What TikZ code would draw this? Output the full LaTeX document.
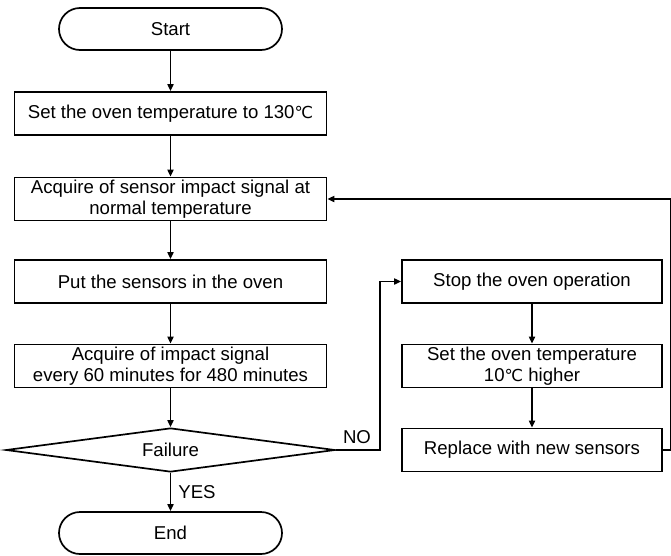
\documentclass[tikz,border=0pt]{standalone}
\usepackage{fontspec}
\setmainfont{Liberation Sans}
\newfontfamily\symfont{DejaVu Sans}
\usetikzlibrary{arrows.meta,shapes.geometric}
\newcommand{\degC}{{\symfont\fontsize{16.5}{20}\selectfont ℃}}
\begin{document}
\begin{tikzpicture}[x=1pt,y=-1pt,
  every node/.style={font=\fontsize{18.6}{21}\selectfont, align=center, inner sep=0pt},
  box/.style={draw, line width=1.7pt, rectangle, minimum height=43pt},
  lbox/.style={box, minimum width=312pt},
  rbox/.style={box, minimum width=260pt},
  term/.style={draw, line width=1.7pt, rectangle, rounded corners=21pt, minimum width=223pt, minimum height=42pt},
  dec/.style={draw, line width=1.7pt, diamond, aspect=7.5, minimum width=329pt, minimum height=44pt},
  arr/.style={line width=1.7pt, -{Triangle[length=7pt,width=6pt]}},
  lbl/.style={font=\fontsize{18.6}{21}\selectfont}
]
\useasboundingbox (0,0) rectangle (671,555);
\node[term] (start) at (170.5,29) {Start};
\node[lbox] (b1) at (170.5,113.5) {Set the oven temperature to 130\degC};
\node[lbox] (b2) at (170.5,199) {Acquire of sensor impact signal at\\normal temperature};
\node[lbox] (b3) at (170.5,281.5) {Put the sensors in the oven};
\node[lbox] (b4) at (170.5,366) {Acquire of impact signal\\every 60 minutes for 480 minutes};
\node[dec] (dia) at (170.5,450) {Failure};
\node[term] (end) at (170.5,533) {End};
\node[rbox] (stop) at (532,281.5) {Stop the oven operation};
\node[rbox] (set) at (532,366) {Set the oven temperature\\10\degC{} higher};
\node[rbox] (rep) at (532,450) {Replace with new sensors};

\draw[arr] (start) -- (b1);
\draw[arr] (b1) -- (b2);
\draw[arr] (b2) -- (b3);
\draw[arr] (b3) -- (b4);
\draw[arr] (b4) -- (dia);
\draw[arr] (dia) -- (end);
\draw[arr] (stop) -- (set);
\draw[arr] (set) -- (rep);
\draw[arr] (dia.east) -| ([xshift=-21pt]stop.west) -- (stop.west);
\draw[arr] (rep.east) -- ++(8,0) |- (b2.east);
\node[lbl] (no) at (357,437) {NO};
\node[lbl] (yes) at (197,492) {YES};
\end{tikzpicture}
\end{document}
